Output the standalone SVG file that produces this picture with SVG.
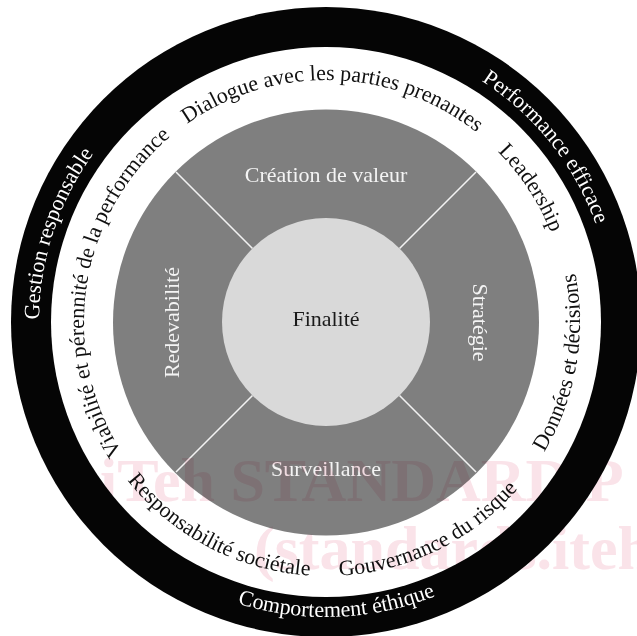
<svg xmlns="http://www.w3.org/2000/svg" width="637" height="636" viewBox="0 0 637 636">
<style>
.ring{font-family:"Liberation Serif","Times New Roman",serif;font-size:22px;}
.dark{fill:#111;}
.light{fill:#fff;}
.quad{font-family:"Liberation Serif","Times New Roman",serif;font-size:22px;fill:#f4f4f4;text-anchor:middle;}
.wm{font-family:"Liberation Serif","Times New Roman",serif;font-size:62px;font-weight:bold;fill:#fae3e9;mix-blend-mode:multiply;}
</style>
<defs>
<path id="pDialogue" d="M89.03,272.92 A242,242 0 0 1 565.47,287.06"/>
<path id="pViabilite" d="M248.21,551.16 A242,242 0 0 1 320.72,80.06"/>
<path id="pLeadership" d="M230.67,99.57 A242,242 0 0 1 491.66,498.41"/>
<path id="pPerformance" d="M189.05,69.78 A287,287 0 0 1 540.95,512.17"/>
<path id="pGestion" d="M190.38,574.93 A287,287 0 0 1 366.93,37.93"/>
<path id="pResponsabilite" d="M83.82,245.41 A254,254 0 0 0 527.38,476.80"/>
<path id="pGouvernance" d="M120.51,471.30 A254,254 0 0 0 570.16,251.99"/>
<path id="pDonnees" d="M326.67,576 A254,254 0 0 0 412.25,83.09"/>
<path id="pComportement" d="M37.61,384.09 A295,295 0 0 0 618.24,362.29"/>
</defs>
<rect width="637" height="636" fill="#fff"/>
<g id="outer-ring">
<circle cx="326" cy="322" r="315" fill="#050505"/>
<circle cx="326" cy="322" r="275" fill="#fff"/>
</g>
<g id="quadrants">
<circle cx="326" cy="322.5" r="213" fill="#7f7f7f"/>
</g>
<g id="connectors" stroke="#f2f2f2" stroke-width="1.6">
<line x1="176" y1="172" x2="252.5" y2="248.5"/>
<line x1="476" y1="172" x2="399.5" y2="248.5"/>
<line x1="176" y1="472" x2="252.5" y2="395.5"/>
<line x1="476" y1="472" x2="399.5" y2="395.5"/>
</g>
<g id="node-finalite">
<circle cx="326" cy="322" r="104" fill="#d9d9d9"/>
<text x="326" y="326" class="quad" style="fill:#1a1a1a">Finalité</text>
</g>
<g id="node-creation"><text x="326" y="182" class="quad">Création de valeur</text></g>
<g id="node-surveillance"><text x="326" y="476" class="quad">Surveillance</text></g>
<g id="node-redevabilite"><text class="quad" transform="translate(179,322.5) rotate(-90)">Redevabilité</text></g>
<g id="node-strategie"><text class="quad" transform="translate(473,322.5) rotate(90)">Stratégie</text></g>
<g id="ring-labels">
<text class="ring dark"><textPath href="#pDialogue" startOffset="50%" text-anchor="middle">Dialogue avec les parties prenantes</textPath></text>
<text class="ring dark"><textPath href="#pViabilite" startOffset="50%" text-anchor="middle">Viabilité et pérennité de la performance</textPath></text>
<text class="ring dark"><textPath href="#pLeadership" startOffset="50%" text-anchor="middle">Leadership</textPath></text>
<text class="ring dark"><textPath href="#pResponsabilite" startOffset="50%" text-anchor="middle">Responsabilité sociétale</textPath></text>
<text class="ring dark"><textPath href="#pGouvernance" startOffset="50%" text-anchor="middle">Gouvernance du risque</textPath></text>
<text class="ring dark"><textPath href="#pDonnees" startOffset="50%" text-anchor="middle">Données et décisions</textPath></text>
<text class="ring light"><textPath href="#pPerformance" startOffset="50%" text-anchor="middle">Performance efficace</textPath></text>
<text class="ring light"><textPath href="#pGestion" startOffset="50%" text-anchor="middle">Gestion responsable</textPath></text>
<text class="ring light"><textPath href="#pComportement" startOffset="50%" text-anchor="middle">Comportement éthique</textPath></text>
</g>
<g id="watermark">
<text x="100" y="501" class="wm">iTeh STANDARD P</text>
<text x="254" y="569" class="wm">(standards.iteh</text>
</g>
</svg>
